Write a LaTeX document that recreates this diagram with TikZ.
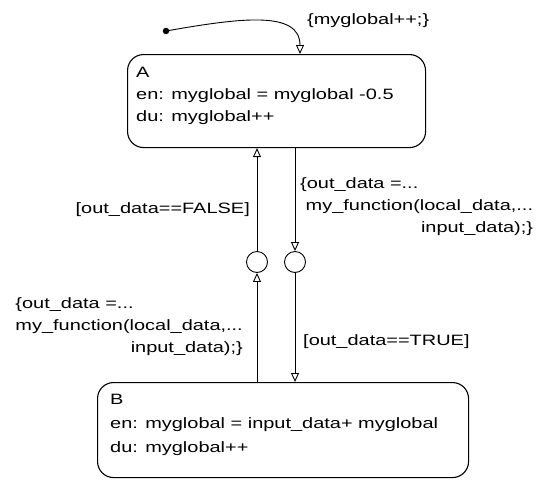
\documentclass[tikz,border=0pt]{standalone}
\usepackage{fontspec}
\setmainfont[FakeStretch=1.33]{Liberation Sans}
\usetikzlibrary{arrows.meta}
\tikzset{
  statebox/.style={draw, line width=1.1pt, rounded corners=16pt, inner sep=0pt, anchor=north west},
  trans/.style={draw, line width=0.9pt, -{Triangle[open, length=9pt, width=8pt]}},
  junction/.style={circle, draw, line width=0.9pt, minimum size=21pt, inner sep=0pt},
  lbl/.style={inner sep=0pt, align=left, font=\fontsize{15}{22}\selectfont},
}

\begin{document}
\begin{tikzpicture}[x=1pt, y=-1pt]
  \useasboundingbox (0,0) rectangle (543,480);

  % states A and B
  \node[statebox, minimum width=298pt, minimum height=93pt] (A) at (127,54) {};
  \node[lbl, anchor=north west] (Atext) at (136,67)
    {A\\en: myglobal = myglobal -0.5\\du: myglobal++};

  \node[statebox, minimum width=371pt, minimum height=95pt] (B) at (97,382) {};
  \node[lbl, anchor=north west, font=\fontsize{15}{24}\selectfont] (Btext) at (110,394)
    {B\\en: myglobal = input\_data+ myglobal\\du: myglobal++};

  % default transition
  \node[circle, fill, inner sep=0pt, minimum size=6.5pt] (init) at (166,31) {};
  \coordinate (Aentry) at (300,54);
  \draw[trans] (init.center) .. controls (240,18) and (300,10) .. (Aentry);
  \node[lbl, anchor=north west] (initlbl) at (307,13) {\{myglobal++;\}};

  % junctions
  \node[junction] (jL) at (257,262) {};
  \node[junction] (jR) at (295,262) {};

  % B -> A
  \draw[trans] (B.north -| jL) -- (jL);
  \draw[trans] (jL) -- (A.south -| jL);
  \node[lbl, anchor=north east] (falselbl) at (250,202) {[out\_data==FALSE]};
  \node[lbl, anchor=north east] (leftact) at (243,297)
    {\{out\_data =...\\my\_function(local\_data,...\\\hfill input\_data);\}};

  % A -> B
  \draw[trans] (A.south -| jR) -- (jR);
  \draw[trans] (jR) -- (B.north -| jR);
  \node[lbl, anchor=north west] (rightact) at (300,177)
    {\{out\_data =...\\\ my\_function(local\_data,...\\\hfill input\_data);\}};
  \node[lbl, anchor=north west] (truelbl) at (303,334) {[out\_data==TRUE]};
\end{tikzpicture}
\end{document}
